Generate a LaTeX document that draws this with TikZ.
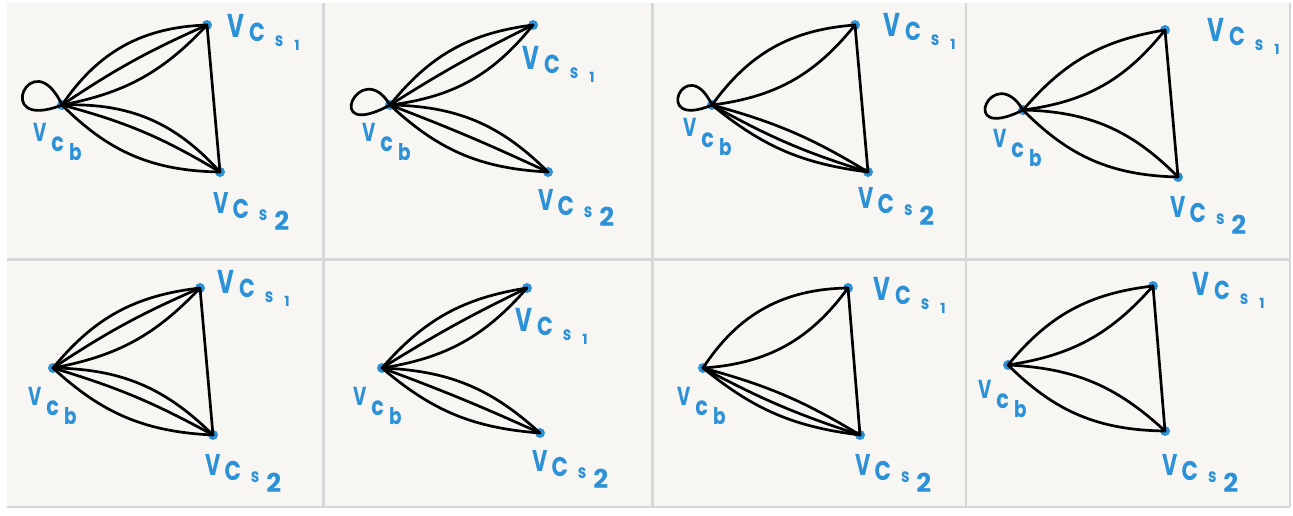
\documentclass[tikz,border=0pt]{standalone}
\usepackage{fontspec}
\newfontfamily\hand{Poppins}
\usepackage{graphicx}
\definecolor{ink}{RGB}{45,145,215}
\definecolor{paper}{RGB}{248,246,242}
\definecolor{rulec}{RGB}{214,214,214}
\newcommand{\fs}[1]{\fontsize{#1}{#1}\selectfont}
\newcommand{\nv}[1]{\scalebox{0.8}[1]{#1}}
\newcommand{\nvv}[1]{\scalebox{0.7}[1]{#1}}
\newcommand{\labB}{\hand\bfseries{\fs{26}\nvv{V}}\kern5pt\raisebox{-10pt}{\fs{26}\nv{c}}\kern5pt\raisebox{-19pt}{\fs{23}\nv{b}}}
\newcommand{\labSa}{\hand\bfseries{\fs{33}\nvv{V}}\kern5pt\raisebox{-4pt}{\fs{26}\nv{C}}\kern10pt\raisebox{-9pt}{\fs{19}\nv{s}}\kern11pt\raisebox{-13pt}{\fs{14}1}}
\newcommand{\labSb}{\hand\bfseries{\fs{30}\nvv{V}}\kern4pt\raisebox{-5pt}{\fs{27}\nv{C}}\kern10pt\raisebox{-7pt}{\fs{19}\nv{s}}\kern7pt\raisebox{-17pt}{\fs{26}2}}
\begin{document}
\begin{tikzpicture}[x=1pt,y=-1pt,
  vtx/.style={circle,fill=ink,inner sep=0pt,minimum size=10pt},
  lab/.style={anchor=base west,inner sep=0pt,text=ink},
  lnk/.style={line width=2.7pt,line cap=round,line join=round,black}]
\useasboundingbox (0,0) rectangle (1293,516);
\fill[white] (0,0) rectangle (1293,516);
\fill[paper] (7,3) rectangle (1290,507);
\draw[rulec,line width=2.5pt] (323.5,3) -- (323.5,507) (652.5,3) -- (652.5,507) (966,3) -- (966,507) (7,259.5) -- (1290,259.5);
\draw[rulec,line width=1.5pt] (1290,3) -- (1290,507) (7,507) -- (1290,507);

% ---- panel 1
\node[vtx] (b1) at (62,105) {};
\node[vtx] (p1) at (207,25) {};
\node[vtx] (q1) at (220,172) {};
\node[lab] (lb1) at (33,142) {\labB};
\node[lab] (lp1) at (227,38) {\labSa};
\node[lab] (lq1) at (213,213) {\labSb};
\draw[lnk] (b1.center) .. controls +(-30,-65) and +(-72,28) .. (b1.center);
\draw[lnk] (b1.center) to[bend left=27] (p1.center);
\draw[lnk] (b1.center) to[bend left=5] (p1.center);
\draw[lnk] (b1.center) to[bend right=18] (p1.center);
\draw[lnk] (b1.center) to[bend left=25] (q1.center);
\draw[lnk] (b1.center) to[bend left=8] (q1.center);
\draw[lnk] (b1.center) to[bend right=22] (q1.center);
\draw[lnk] (p1.center) -- (q1.center);

% ---- panel 2
\node[vtx] (b2) at (390,105) {};
\node[vtx] (p2) at (533,25) {};
\node[vtx] (q2) at (548,172) {};
\node[lab] (lb2) at (362,142) {\labB};
\node[lab] (lp2) at (522,70) {\labSa};
\node[lab] (lq2) at (538,210) {\labSb};
\draw[lnk] (b2.center) .. controls +(-30,-50) and +(-70,38) .. (b2.center);
\draw[lnk] (b2.center) to[bend left=22] (p2.center);
\draw[lnk] (b2.center) to[bend left=3] (p2.center);
\draw[lnk] (b2.center) to[bend right=22] (p2.center);
\draw[lnk] (b2.center) to[bend left=22] (q2.center);
\draw[lnk] (b2.center) to[bend left=2] (q2.center);
\draw[lnk] (b2.center) to[bend right=20] (q2.center);

% ---- panel 3
\node[vtx] (b3) at (712,105) {};
\node[vtx] (p3) at (855,25) {};
\node[vtx] (q3) at (868,172) {};
\node[lab] (lb3) at (683,137) {\labB};
\node[lab] (lp3) at (883,37) {\labSa};
\node[lab] (lq3) at (858,208) {\labSb};
\draw[lnk] (b3.center) .. controls +(-26,-55) and +(-62,26) .. (b3.center);
\draw[lnk] (b3.center) to[bend left=25] (p3.center);
\draw[lnk] (b3.center) to[bend right=22] (p3.center);
\draw[lnk] (b3.center) to[bend left=8] (q3.center);
\draw[lnk] (b3.center) to[bend right=6] (q3.center);
\draw[lnk] (b3.center) to[bend right=16] (q3.center);
\draw[lnk] (p3.center) -- (q3.center);

% ---- panel 4
\node[vtx] (b4) at (1023,110) {};
\node[vtx] (p4) at (1165,30) {};
\node[vtx] (q4) at (1178,177) {};
\node[lab] (lb4) at (993,147) {\labB};
\node[lab] (lp4) at (1207,42) {\labSa};
\node[lab] (lq4) at (1170,217) {\labSb};
\draw[lnk] (b4.center) .. controls +(-30,-50) and +(-68,34) .. (b4.center);
\draw[lnk] (b4.center) to[bend left=20] (p4.center);
\draw[lnk] (b4.center) to[bend right=22] (p4.center);
\draw[lnk] (b4.center) to[bend left=22] (q4.center);
\draw[lnk] (b4.center) to[bend right=22] (q4.center);
\draw[lnk] (p4.center) -- (q4.center);

% ---- panel 5
\node[vtx] (b5) at (53,368) {};
\node[vtx] (p5) at (200,288) {};
\node[vtx] (q5) at (213,435) {};
\node[lab] (lb5) at (28,405) {\labB};
\node[lab] (lp5) at (217,293) {\labSa};
\node[lab] (lq5) at (205,475) {\labSb};
\draw[lnk] (b5.center) to[bend left=22] (p5.center);
\draw[lnk] (b5.center) to[bend left=5] (p5.center);
\draw[lnk] (b5.center) to[bend right=18] (p5.center);
\draw[lnk] (b5.center) to[bend left=22] (q5.center);
\draw[lnk] (b5.center) to[bend left=6] (q5.center);
\draw[lnk] (b5.center) to[bend right=20] (q5.center);
\draw[lnk] (p5.center) -- (q5.center);

% ---- panel 6
\node[vtx] (b6) at (382,368) {};
\node[vtx] (p6) at (527,288) {};
\node[vtx] (q6) at (540,433) {};
\node[lab] (lb6) at (353,405) {\labB};
\node[lab] (lp6) at (515,331) {\labSa};
\node[lab] (lq6) at (532,471) {\labSb};
\draw[lnk] (b6.center) to[bend left=20] (p6.center);
\draw[lnk] (b6.center) to[bend left=3] (p6.center);
\draw[lnk] (b6.center) to[bend right=20] (p6.center);
\draw[lnk] (b6.center) to[bend left=20] (q6.center);
\draw[lnk] (b6.center) to[bend left=2] (q6.center);
\draw[lnk] (b6.center) to[bend right=18] (q6.center);

% ---- panel 7
\node[vtx] (b7) at (703,368) {};
\node[vtx] (p7) at (848,288) {};
\node[vtx] (q7) at (860,435) {};
\node[lab] (lb7) at (677,405) {\labB};
\node[lab] (lp7) at (873,300) {\labSa};
\node[lab] (lq7) at (855,475) {\labSb};
\draw[lnk] (b7.center) to[bend left=28] (p7.center);
\draw[lnk] (b7.center) to[bend right=25] (p7.center);
\draw[lnk] (b7.center) to[bend left=8] (q7.center);
\draw[lnk] (b7.center) to[bend right=5] (q7.center);
\draw[lnk] (b7.center) to[bend right=16] (q7.center);
\draw[lnk] (p7.center) -- (q7.center);

% ---- panel 8
\node[vtx] (b8) at (1008,365) {};
\node[vtx] (p8) at (1153,286) {};
\node[vtx] (q8) at (1165,431) {};
\node[lab] (lb8) at (978,398) {\labB};
\node[lab] (lp8) at (1192,295) {\labSa};
\node[lab] (lq8) at (1162,475) {\labSb};
\draw[lnk] (b8.center) to[bend left=22] (p8.center);
\draw[lnk] (b8.center) to[bend right=20] (p8.center);
\draw[lnk] (b8.center) to[bend left=20] (q8.center);
\draw[lnk] (b8.center) to[bend right=22] (q8.center);
\draw[lnk] (p8.center) -- (q8.center);
\end{tikzpicture}
\end{document}
